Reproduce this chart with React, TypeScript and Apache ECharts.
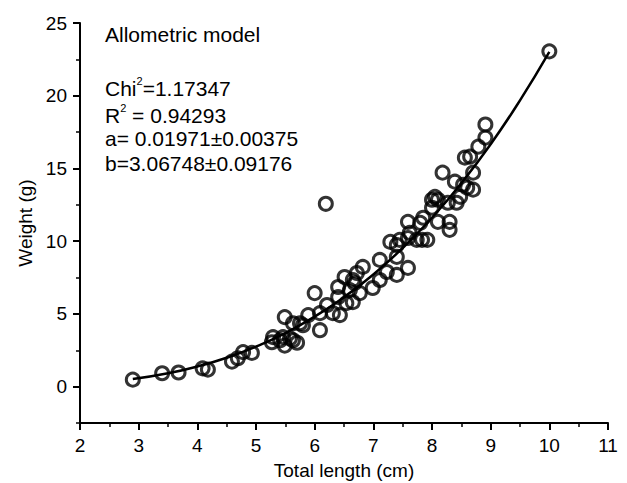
import React, { useEffect, useRef } from "react";
import * as echarts from "echarts";

// Observed fish: total length (cm) and weight (g)
const lengthCm = [
  2.9, 3.4, 3.68, 4.09, 4.18, 4.59, 4.69, 4.78, 4.93, 5.27, 5.29, 5.41, 5.46, 5.49, 5.49,
  5.58, 5.63, 5.63, 5.7, 5.75, 5.8, 5.89, 6.0, 6.09, 6.09, 6.21, 6.19, 6.31, 6.43,
  6.4, 6.4, 6.51, 6.54, 6.6, 6.65, 6.65, 6.68, 6.72, 6.77, 6.82, 6.99, 7.11, 7.11,
  7.23, 7.29, 7.4, 7.45, 7.4, 7.59, 7.4, 7.59, 7.74, 7.59, 7.8, 7.62, 7.83, 7.92,
  7.85, 8.0, 8.0, 8.05, 8.1, 8.27, 8.42, 8.1, 8.3, 8.3, 8.18, 8.39, 8.48, 8.53,
  8.6, 8.7, 8.7, 8.56, 8.65, 8.79, 8.91, 8.91, 10.0,
];
const weightG = [
  0.48, 0.92, 0.97, 1.26, 1.17, 1.72, 1.95, 2.37, 2.32, 3.05, 3.4, 3.19, 3.4, 2.82, 4.78,
  3.32, 3.19, 4.36, 3.02, 4.36, 4.22, 4.92, 6.43, 5.05, 3.88, 5.61, 12.57, 5.05, 4.92,
  6.16, 6.85, 7.54, 5.74, 6.64, 5.81, 7.33, 7.12, 7.81, 6.43, 8.23, 6.78, 8.71, 7.33,
  7.88, 9.95, 9.74, 10.09, 8.92, 8.16, 7.68, 10.22, 10.09, 11.33, 11.26, 10.57, 10.09, 10.09,
  11.61, 12.3, 12.85, 13.05, 12.85, 12.64, 12.64, 11.33, 11.33, 10.78, 14.71, 14.09, 13.05, 13.88,
  13.68, 14.71, 13.54, 15.74, 15.81, 16.5, 17.12, 18.02, 23.05,
];

// Fitted allometric curve
const curveX = [2.9, 3.5, 4, 4.5, 5, 5.5, 6, 6.5, 7, 7.5, 8, 8.5, 9, 9.5, 10];
const curveY = [0.52, 0.92, 1.39, 1.99, 2.75, 3.68, 4.81, 6.15, 7.71, 9.53, 11.61, 13.99, 16.67, 19.68, 23.01];

const yMajorTicks = [0, 5, 10, 15, 20, 25];
const titleText = "Allometric model";
const annotationLines = [
  "{n|Chi}{s|2}{n|=1.17347}",
  "{n|R}{s|2}{n| = 0.94293}",
  "{n|a= 0.01971±0.00375}",
  "{n|b=3.06748±0.09176}",
];

const FONT = '"Liberation Sans", Arial, sans-serif';

export default function App() {
  const ref = useRef<HTMLDivElement>(null);
  useEffect(() => {
    if (!ref.current) return;
    const chart = echarts.init(ref.current, null, { renderer: "svg" });
    const rich = {
      n: { fontSize: 21, fontFamily: FONT, color: "#000", lineHeight: 26 },
      s: { fontSize: 11, fontFamily: FONT, color: "#000", lineHeight: 12, verticalAlign: "top" },
    };
    const rowCenters = [88, 115, 141, 166];
    chart.setOption({
      animation: false,
      backgroundColor: "#fff",
      grid: { left: 80, right: 19, top: 23, bottom: 60, containLabel: false, outerBoundsMode: "none" },
      xAxis: {
        type: "value",
        min: 2,
        max: 11,
        interval: 1,
        name: "Total length (cm)",
        nameLocation: "middle",
        nameGap: 38,
        nameTextStyle: { fontSize: 19, fontFamily: FONT, color: "#000" },
        axisLine: { onZero: false, lineStyle: { color: "#000", width: 2 } },
        axisTick: { show: true, length: 7, lineStyle: { color: "#000", width: 2 } },
        minorTick: { show: true, splitNumber: 2, length: 4, lineStyle: { color: "#000", width: 1.5 } },
        axisLabel: { fontSize: 19, fontFamily: FONT, color: "#000", margin: 13 },
        splitLine: { show: false },
      },
      yAxis: [
        {
          type: "value",
          min: -2.5,
          max: 25,
          interval: 2.5,
          name: "Weight (g)",
          nameLocation: "middle",
          nameGap: 43,
          nameTextStyle: { fontSize: 19, fontFamily: FONT, color: "#000" },
          axisLine: { show: true, lineStyle: { color: "#000", width: 2 } },
          axisTick: { show: true, length: 4, lineStyle: { color: "#000", width: 1.5 } },
          axisLabel: {
            fontSize: 19,
            fontFamily: FONT,
            color: "#000",
            margin: 13,
            formatter: (v: number) => (yMajorTicks.includes(v) ? String(v) : ""),
          },
          splitLine: { show: false },
        },
        {
          type: "value",
          position: "left",
          min: -2.5,
          max: 25,
          interval: 2.5,
          axisLine: { show: false },
          axisTick: { show: true, length: 7, customValues: yMajorTicks, lineStyle: { color: "#000", width: 2 } },
          axisLabel: { show: false },
          splitLine: { show: false },
        },
      ],
      series: [
        {
          type: "line",
          data: curveX.map((x, i) => [x, curveY[i]]),
          smooth: true,
          showSymbol: false,
          symbol: "none",
          lineStyle: { color: "#000", width: 2.5 },
          z: 3,
        },
        {
          type: "scatter",
          data: lengthCm.map((x, i) => [x, weightG[i]]),
          symbol: "circle",
          symbolSize: 13,
          itemStyle: { color: "rgba(255,255,255,0)", borderColor: "#000", borderWidth: 3 },
          z: 4,
        },
      ],
      graphic: [
        {
          type: "text",
          left: 105,
          top: 24,
          style: { text: titleText, font: `21px ${FONT}`, fill: "#000" },
        },
        ...annotationLines.map((t, i) => ({
          type: "text",
          left: 105,
          top: rowCenters[i] - 13,
          style: { text: t, rich },
        })),
      ],
    });
    return () => chart.dispose();
  }, []);
  return (
    <div
      ref={ref}
      style={{ position: "fixed", left: 0, top: 0, width: 627, height: 483 }}
    />
  );
}
